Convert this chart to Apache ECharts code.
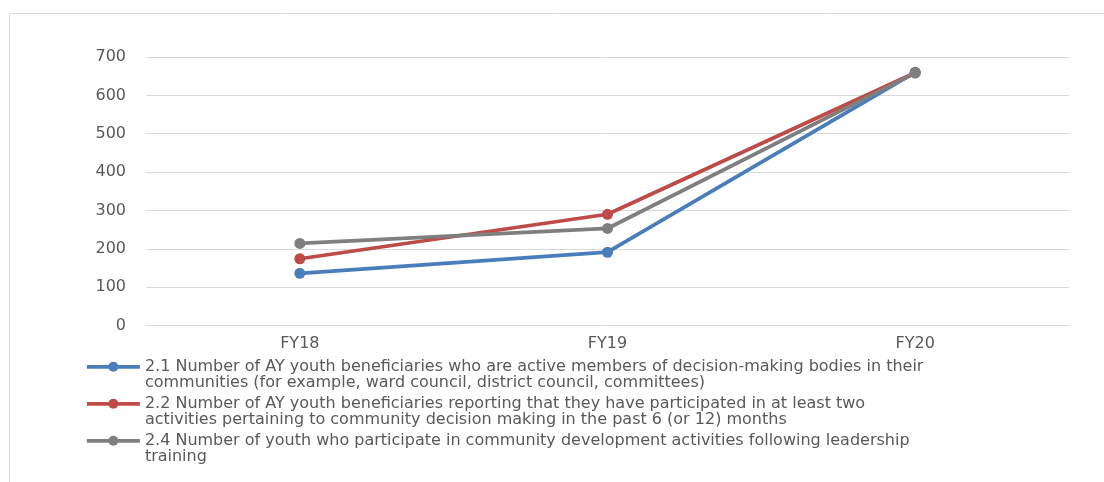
<!DOCTYPE html>
<html>
<head>
<meta charset="utf-8">
<script src="https://cdn.jsdelivr.net/npm/echarts@6/dist/echarts.min.js"></script>
<style>
  html, body { margin: 0; padding: 0; background: #ffffff; }
  #chart { width: 1104px; height: 482px; }
</style>
</head>
<body>
<div id="chart"></div>
<script>
// Fiscal years on the category axis
const categories = ['FY18', 'FY19', 'FY20'];

// Indicator names (wrapped as shown in the legend)
const seriesNames = [
  '2.1 Number of AY youth beneficiaries who are active members of decision-making bodies in their\ncommunities (for example, ward council, district council, committees)',
  '2.2 Number of AY youth beneficiaries reporting that they have participated in at least two\nactivities pertaining to community decision making in the past 6 (or 12) months',
  '2.4 Number of youth who participate in community development activities following leadership\ntraining'
];

// Values per indicator
const activeMembers = [136, 191, 660];
const decisionActivities = [174, 290, 659];
const leadershipFollowUp = [214, 253, 658];

// Value axis ticks
const yTicks = [0, 100, 200, 300, 400, 500, 600, 700];

const colors = ['#4a7ebb', '#be4b48', '#7f7f7f'];
const FONT = '"DejaVu Sans", sans-serif';
const TEXT = '#595959';
const LINE_H = 16.5;

const chart = echarts.init(document.getElementById('chart'), null, { renderer: 'canvas' });

function lineSeries(name, data, color) {
  return {
    name: name,
    type: 'line',
    data: data,
    symbol: 'circle',
    symbolSize: 11,
    lineStyle: { width: 3.75, color: color },
    itemStyle: { color: color },
    emphasis: { disabled: true },
    z: 2
  };
}

chart.setOption({
  animation: false,
  color: colors,
  graphic: [{
    type: 'rect',
    shape: { x: 9.5, y: 13.5, width: 1110, height: 480 },
    style: { fill: 'none', stroke: '#d9d9d9', lineWidth: 1 },
    silent: true
  }],
  grid: { left: 146, right: 35, top: 57, bottom: 156.5, containLabel: false },
  legend: {
    orient: 'vertical',
    left: 85,
    top: 342,
    padding: 0,
    itemWidth: 53,
    itemHeight: 12.5,
    itemGap: -12.5,
    selectedMode: false,
    lineStyle: { width: 3.75 },
    // a blank first row keeps the icon level with the first text row
    formatter: function (name) { return ' \n' + name + (name.indexOf('\n') < 0 ? '\n ' : ''); },
    textStyle: {
      color: TEXT,
      fontFamily: FONT,
      fontSize: 16,
      lineHeight: LINE_H
    },
    data: seriesNames
  },
  xAxis: {
    type: 'category',
    data: categories,
    boundaryGap: true,
    axisLine: { show: false },
    axisTick: { show: false },
    axisLabel: { color: TEXT, fontFamily: FONT, fontSize: 16, margin: 10 }
  },
  yAxis: {
    type: 'value',
    min: yTicks[0],
    max: yTicks[yTicks.length - 1],
    interval: yTicks[1] - yTicks[0],
    axisLine: { show: false },
    axisTick: { show: false },
    splitLine: { lineStyle: { color: '#d9d9d9', width: 1 } },
    axisLabel: { color: TEXT, fontFamily: FONT, fontSize: 16, margin: 20 }
  },
  series: [
    lineSeries(seriesNames[0], activeMembers, colors[0]),
    lineSeries(seriesNames[1], decisionActivities, colors[1]),
    lineSeries(seriesNames[2], leadershipFollowUp, colors[2])
  ]
});
</script>
</body>
</html>
